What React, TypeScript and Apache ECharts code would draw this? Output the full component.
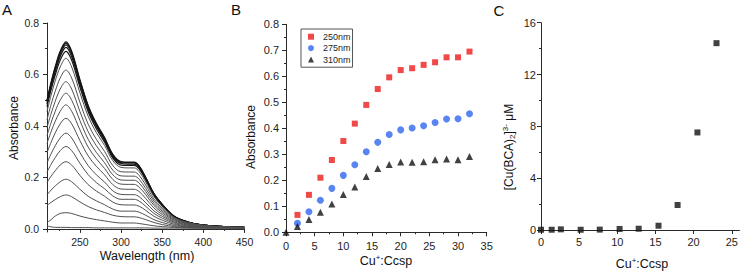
import React, { useEffect, useRef } from "react";
import * as echarts from "echarts";

// ---------- Panel A: UV-vis spectra ----------
const wavelengths = [210, 215, 220, 226, 233, 240, 250, 260, 270, 280, 290, 300, 310, 316, 322, 330, 340, 350, 365, 380, 400, 425, 450];
const spectra: number[][] = [
  [0.500, 0.570, 0.630, 0.690, 0.727, 0.690, 0.580, 0.480, 0.410, 0.355, 0.290, 0.262, 0.260, 0.260, 0.245, 0.200, 0.137, 0.095, 0.048, 0.028, 0.015, 0.009, 0.006],
  [0.497, 0.566, 0.626, 0.685, 0.722, 0.685, 0.576, 0.477, 0.407, 0.352, 0.288, 0.260, 0.258, 0.258, 0.243, 0.199, 0.136, 0.095, 0.048, 0.028, 0.015, 0.009, 0.006],
  [0.492, 0.561, 0.620, 0.679, 0.715, 0.679, 0.571, 0.472, 0.403, 0.349, 0.285, 0.257, 0.256, 0.256, 0.241, 0.197, 0.134, 0.094, 0.047, 0.028, 0.015, 0.009, 0.006],
  [0.485, 0.553, 0.611, 0.669, 0.705, 0.669, 0.563, 0.465, 0.398, 0.344, 0.281, 0.254, 0.252, 0.252, 0.238, 0.194, 0.133, 0.092, 0.047, 0.028, 0.015, 0.009, 0.006],
  [0.475, 0.541, 0.598, 0.655, 0.690, 0.655, 0.551, 0.455, 0.389, 0.337, 0.275, 0.248, 0.247, 0.247, 0.233, 0.190, 0.130, 0.090, 0.046, 0.027, 0.015, 0.009, 0.006],
  [0.456, 0.520, 0.575, 0.629, 0.663, 0.629, 0.529, 0.438, 0.374, 0.324, 0.265, 0.239, 0.237, 0.237, 0.223, 0.182, 0.125, 0.087, 0.044, 0.026, 0.014, 0.008, 0.006],
  [0.424, 0.484, 0.535, 0.586, 0.617, 0.586, 0.492, 0.407, 0.348, 0.301, 0.246, 0.222, 0.221, 0.221, 0.208, 0.170, 0.116, 0.081, 0.041, 0.024, 0.013, 0.008, 0.005],
  [0.394, 0.448, 0.496, 0.543, 0.572, 0.543, 0.456, 0.378, 0.323, 0.279, 0.228, 0.206, 0.205, 0.205, 0.193, 0.157, 0.108, 0.075, 0.038, 0.022, 0.012, 0.007, 0.005],
  [0.363, 0.413, 0.457, 0.500, 0.527, 0.500, 0.421, 0.348, 0.297, 0.257, 0.210, 0.190, 0.189, 0.189, 0.178, 0.145, 0.099, 0.069, 0.035, 0.021, 0.011, 0.007, 0.005],
  [0.332, 0.378, 0.418, 0.457, 0.482, 0.457, 0.385, 0.318, 0.272, 0.235, 0.192, 0.174, 0.173, 0.173, 0.162, 0.133, 0.091, 0.063, 0.032, 0.019, 0.010, 0.006, 0.005],
  [0.296, 0.337, 0.373, 0.408, 0.430, 0.408, 0.343, 0.284, 0.243, 0.210, 0.172, 0.155, 0.154, 0.154, 0.145, 0.118, 0.081, 0.056, 0.028, 0.017, 0.009, 0.006, 0.004],
  [0.256, 0.292, 0.323, 0.353, 0.372, 0.353, 0.297, 0.246, 0.210, 0.182, 0.148, 0.134, 0.133, 0.133, 0.125, 0.102, 0.070, 0.049, 0.025, 0.015, 0.008, 0.005, 0.004],
  [0.220, 0.251, 0.277, 0.304, 0.320, 0.304, 0.255, 0.211, 0.180, 0.156, 0.128, 0.115, 0.115, 0.115, 0.108, 0.088, 0.060, 0.042, 0.021, 0.012, 0.007, 0.005, 0.004],
  [0.180, 0.205, 0.226, 0.248, 0.261, 0.248, 0.208, 0.172, 0.147, 0.127, 0.104, 0.094, 0.093, 0.093, 0.088, 0.072, 0.049, 0.034, 0.017, 0.010, 0.006, 0.004, 0.004],
  [0.133, 0.151, 0.167, 0.183, 0.193, 0.183, 0.154, 0.127, 0.109, 0.094, 0.077, 0.069, 0.069, 0.069, 0.065, 0.053, 0.036, 0.025, 0.013, 0.008, 0.005, 0.004, 0.004],
  [0.091, 0.103, 0.114, 0.125, 0.132, 0.125, 0.105, 0.087, 0.074, 0.064, 0.053, 0.048, 0.047, 0.047, 0.044, 0.036, 0.025, 0.017, 0.009, 0.006, 0.004, 0.004, 0.004],
  [0.025, 0.036, 0.050, 0.060, 0.063, 0.060, 0.050, 0.042, 0.036, 0.031, 0.026, 0.023, 0.023, 0.023, 0.021, 0.017, 0.012, 0.009, 0.006, 0.004, 0.003, 0.003, 0.003],
  [0.012, 0.008, 0.006, 0.006, 0.006, 0.005, 0.005, 0.005, 0.004, 0.004, 0.004, 0.004, 0.004, 0.004, 0.004, 0.004, 0.003, 0.003, 0.003, 0.003, 0.003, 0.003, 0.003],
];
const specXTicks = [250, 300, 350, 400, 450];
const specXMinor = [225, 275, 325, 375, 425];
const specYTicks = [0, 0.2, 0.4, 0.6, 0.8];
const specYMinor = [0.1, 0.3, 0.5, 0.7];

// ---------- Panel B: absorbance vs ratio ----------
const ratioB = [2, 4, 6, 8, 10, 12, 14, 16, 18, 20, 22, 24, 26, 28, 30, 32];
const abs250 = [0.067, 0.144, 0.21, 0.278, 0.351, 0.418, 0.49, 0.551, 0.596, 0.624, 0.631, 0.644, 0.654, 0.673, 0.673, 0.695];
const abs275 = [0.035, 0.079, 0.123, 0.169, 0.219, 0.26, 0.31, 0.346, 0.376, 0.394, 0.401, 0.41, 0.422, 0.436, 0.437, 0.456];
const ratio310 = [0, 2, 4, 6, 8, 10, 12, 14, 16, 18, 20, 22, 24, 26, 28, 30, 32];
const abs310 = [0, 0.022, 0.049, 0.077, 0.109, 0.145, 0.174, 0.215, 0.245, 0.261, 0.27, 0.269, 0.271, 0.279, 0.282, 0.279, 0.292];

// ---------- Panel C: [Cu(BCA)2]3- vs ratio ----------
const ratioC = [0, 1.4, 2.6, 5.2, 7.7, 10.3, 12.8, 15.4, 17.9, 20.5, 23.0];
const cuBCA = [0.02, 0.02, 0.05, 0.02, 0.03, 0.08, 0.1, 0.33, 1.93, 7.53, 14.42];
const cXTicks = [0, 5, 10, 15, 20, 25];

const FONT = "Liberation Sans, Arial, Helvetica, sans-serif";
const AX = "#2a2a2a";
const LBL = "#1e1e1e";

const zip = (xs: number[], ys: number[]) => xs.map((x, i) => [x, ys[i]]);

export default function App() {
  const ref = useRef<HTMLDivElement>(null);
  useEffect(() => {
    if (!ref.current) return;
    const chart = echarts.init(ref.current, undefined, { renderer: "svg" });

    const axisLine = { show: true, lineStyle: { color: AX, width: 1 } };
    const lbl = (extra: any = {}) => ({ color: LBL, fontFamily: FONT, fontSize: 11, ...extra });

    const specSeries = spectra.map((s, i) => ({
      type: "line",
      xAxisIndex: 0,
      yAxisIndex: 0,
      data: zip(wavelengths, s),
      smooth: 0.35,
      showSymbol: false,
      symbol: "none",
      silent: true,
      lineStyle: { width: i < 5 ? 1.2 : 1, color: i < 5 ? "#151515" : "#505050" },
    }));

    const sup = { fontSize: 8, fontFamily: FONT, fill: "#111", lineHeight: 14, padding: [0, 0, 8, 0] };

    const option: any = {
      animation: false,
      backgroundColor: "#ffffff",
      grid: [
        { left: 47, top: 23, width: 197.5, height: 209, outerBoundsMode: "none" },
        { left: 286, top: 24.3, width: 200.7, height: 208, outerBoundsMode: "none" },
        { left: 541, top: 22.7, width: 198.4, height: 207.3, outerBoundsMode: "none" },
      ],
      xAxis: [
        {
          gridIndex: 0, type: "value", min: 210, max: 450, position: "bottom",
          axisLine, splitLine: { show: false },
          axisTick: { show: true, length: 4, customValues: specXTicks, lineStyle: { color: AX } },
          axisLabel: lbl({ customValues: specXTicks, margin: 4, fontSize: 10.5 }),
        },
        {
          gridIndex: 0, type: "value", min: 210, max: 450, position: "bottom",
          axisLine: { show: false }, splitLine: { show: false },
          axisTick: { show: true, length: 2, customValues: specXMinor, lineStyle: { color: AX } },
          axisLabel: { show: false },
        },
        {
          gridIndex: 1, type: "value", min: 0, max: 35, interval: 5, position: "bottom",
          axisLine, splitLine: { show: false },
          axisTick: { show: true, length: 4, lineStyle: { color: AX } },
          minorTick: { show: true, splitNumber: 2, length: 2, lineStyle: { color: AX } },
          axisLabel: lbl({ margin: 8 }),
        },
        {
          gridIndex: 2, type: "value", min: 0, max: 26, position: "bottom",
          axisLine, splitLine: { show: false },
          axisTick: { show: true, length: 4, customValues: cXTicks, lineStyle: { color: AX } },
          axisLabel: lbl({ customValues: cXTicks, margin: 6 }),
        },
      ],
      yAxis: [
        {
          gridIndex: 0, type: "value", min: -0.012, max: 0.8, position: "left",
          axisLine, splitLine: { show: false },
          axisTick: { show: true, length: 4, customValues: specYTicks, lineStyle: { color: AX } },
          axisLabel: lbl({ customValues: specYTicks, margin: 8, fontSize: 10.5, formatter: (v: number) => v.toFixed(1) }),
        },
        {
          gridIndex: 0, type: "value", min: -0.012, max: 0.8, position: "left",
          axisLine: { show: false }, splitLine: { show: false },
          axisTick: { show: true, length: 2, customValues: specYMinor, lineStyle: { color: AX } },
          axisLabel: { show: false },
        },
        {
          gridIndex: 1, type: "value", min: 0, max: 0.8, interval: 0.1, position: "left",
          axisLine, splitLine: { show: false },
          axisTick: { show: true, length: 4, lineStyle: { color: AX } },
          minorTick: { show: true, splitNumber: 2, length: 2, lineStyle: { color: AX } },
          axisLabel: lbl({ margin: 7, formatter: (v: number) => v.toFixed(1) }),
        },
        {
          gridIndex: 2, type: "value", min: 0, max: 16, interval: 4, position: "left",
          axisLine, splitLine: { show: false },
          axisTick: { show: true, length: 4, lineStyle: { color: AX } },
          minorTick: { show: true, splitNumber: 2, length: 2, lineStyle: { color: AX } },
          axisLabel: lbl({ margin: 5 }),
        },
      ],
      legend: {
        show: true,
        left: 301,
        top: 29,
        orient: "vertical",
        data: ["250nm", "275nm", "310nm"],
        itemWidth: 6,
        itemHeight: 6,
        itemGap: 0,
        padding: [2, 2, 2, 7],
        borderColor: "#555",
        borderWidth: 1,
        borderRadius: 0,
        textStyle: { fontSize: 9, fontFamily: FONT, color: LBL, lineHeight: 11.4, padding: [0, 0, 0, 4] },
      },
      series: [
        ...specSeries,
        {
          name: "250nm", type: "scatter", xAxisIndex: 2, yAxisIndex: 2,
          data: zip(ratioB, abs250), symbol: "rect", symbolSize: 6,
          itemStyle: { color: "#ee1a1a" }, clip: false,
        },
        {
          name: "275nm", type: "scatter", xAxisIndex: 2, yAxisIndex: 2,
          data: zip(ratioB, abs275), symbol: "circle", symbolSize: 7,
          itemStyle: { color: "#2e66ee" }, clip: false,
        },
        {
          name: "310nm", type: "scatter", xAxisIndex: 2, yAxisIndex: 2,
          data: zip(ratio310, abs310), symbol: "triangle", symbolSize: 7,
          itemStyle: { color: "#111111" }, clip: false,
        },
        {
          name: "cu", type: "scatter", xAxisIndex: 3, yAxisIndex: 3,
          data: zip(ratioC, cuBCA), symbol: "rect", symbolSize: 6,
          itemStyle: { color: "#111111" }, clip: false,
        },
      ],
      graphic: [
        { type: "text", x: 7, y: 9, style: { text: "A", font: `15px ${FONT}`, fill: "#111", align: "center", verticalAlign: "middle" } },
        { type: "text", x: 236, y: 9, style: { text: "B", font: `15px ${FONT}`, fill: "#111", align: "center", verticalAlign: "middle" } },
        { type: "text", x: 499, y: 10, style: { text: "C", font: `15px ${FONT}`, fill: "#111", align: "center", verticalAlign: "middle" } },
        { type: "text", x: 14, y: 128, rotation: Math.PI / 2, style: { text: "Absorbance", font: `12px ${FONT}`, fill: "#111", align: "center", verticalAlign: "middle" } },
        { type: "text", x: 147, y: 256, style: { text: "Wavelength (nm)", font: `12.5px ${FONT}`, fill: "#111", align: "center", verticalAlign: "middle" } },
        { type: "text", x: 251, y: 137, rotation: Math.PI / 2, style: { text: "Absorbance", font: `12px ${FONT}`, fill: "#111", align: "center", verticalAlign: "middle" } },
        {
          type: "text", x: 386, y: 261,
          style: {
            text: "{m|Cu}{s|+}{m|:Ccsp}", align: "center", verticalAlign: "middle", fill: "#111",
            rich: { m: { fontSize: 12.5, fontFamily: FONT, fill: "#111", lineHeight: 14 }, s: sup },
          },
        },
        {
          type: "text", x: 642, y: 264,
          style: {
            text: "{m|Cu}{s|+}{m|:Ccsp}", align: "center", verticalAlign: "middle", fill: "#111",
            rich: { m: { fontSize: 12.5, fontFamily: FONT, fill: "#111", lineHeight: 14 }, s: sup },
          },
        },
        {
          type: "text", x: 509, y: 147, rotation: Math.PI / 2,
          style: {
            text: "{m|[Cu(BCA)}{b|2}{m|]}{s|3-}{m| μM}", align: "center", verticalAlign: "middle", fill: "#111",
            rich: {
              m: { fontSize: 12, fontFamily: FONT, fill: "#111", lineHeight: 14 },
              s: sup,
              b: { fontSize: 8, fontFamily: FONT, fill: "#111", lineHeight: 14, padding: [6, 0, 0, 0] },
            },
          },
        },
      ],
    };

    chart.setOption(option);
    return () => chart.dispose();
  }, []);

  return (
    <div
      ref={ref}
      style={{ position: "fixed", left: 0, top: 0, width: 742, height: 272, background: "#fff" }}
    />
  );
}
